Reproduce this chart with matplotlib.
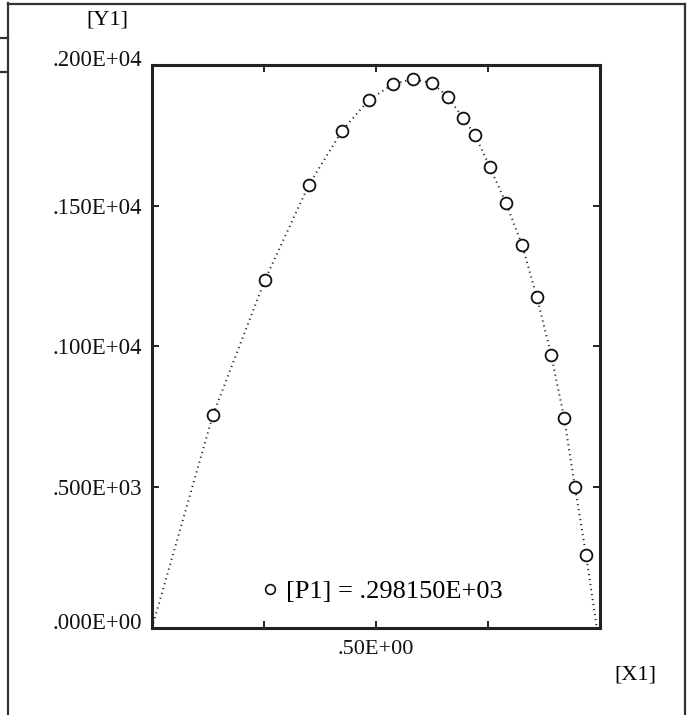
import matplotlib.pyplot as plt
from matplotlib.lines import Line2D
from matplotlib.transforms import ScaledTranslation

# values
x_pts = [0.136, 0.252, 0.350, 0.424, 0.484, 0.538, 0.583, 0.625, 0.661, 0.694,
         0.721, 0.754, 0.790, 0.826, 0.859, 0.891, 0.920, 0.944, 0.969]
y_pts = [757, 1236, 1574, 1766, 1876, 1932, 1950, 1936, 1886, 1812,
         1751, 1638, 1510, 1361, 1176, 970, 746, 501, 259]

# dotted fit curve: ends at zero on both sides
x_fit = [0.0] + x_pts + [0.993]
y_fit = [0.0] + y_pts + [0.0]

y_ticks = [0, 500, 1000, 1500, 2000]
y_labels = ['.000E+00', '.500E+03', '.100E+04', '.150E+04', '.200E+04']
x_ticks = [0.25, 0.5, 0.75]
x_labels = ['', '.50E+00', '']
legend_label = '[P1] = .298150E+03'

plt.rcParams['font.family'] = ['Liberation Serif', 'DejaVu Serif']
plt.rcParams['font.size'] = 15.5

fig = plt.figure(figsize=(6.89, 7.15), dpi=100)
W, H = 689.0, 715.0

ax = fig.add_axes([152 / W, 1 - 628 / H, 448 / W, 563 / H])
ax.plot(x_fit, y_fit, linestyle=(0, (0.6, 2.0)), color='#222222', linewidth=1.4)
ax.plot(x_pts, y_pts, linestyle='none', marker='o', markersize=8.5,
        markerfacecolor='white', markeredgecolor='#111111', markeredgewidth=1.3)

ax.set_xlim(0, 1)
ax.set_ylim(0, 2000)
ax.set_xticks(x_ticks)
ax.set_xticklabels(x_labels)
ax.set_yticks(y_ticks)
ax.set_yticklabels(y_labels)
ax.tick_params(direction='in', length=5, width=1.3, top=True, right=True,
               colors='#111111')
ax.tick_params(axis='y', pad=7, labelsize=16.5)
ax.tick_params(axis='x', pad=9, labelsize=16)
for s in ax.spines.values():
    s.set_linewidth(2.2)
    s.set_color('#222222')

# end labels sit a little off their ticks, as in the original
labs = ax.get_yticklabels()
labs[0].set_transform(labs[0].get_transform() + ScaledTranslation(0, 5 / 72, fig.dpi_scale_trans))
labs[-1].set_transform(labs[-1].get_transform() + ScaledTranslation(0, 5 / 72, fig.dpi_scale_trans))

handle = Line2D([], [], linestyle='none', marker='o', markersize=7,
                markerfacecolor='white', markeredgecolor='#111111', markeredgewidth=1.2)
ax.legend([handle], [legend_label], frameon=False, loc='center',
          bbox_to_anchor=(383 / W, 1 - 591 / H), bbox_transform=fig.transFigure,
          handlelength=0.5, handletextpad=0.35, fontsize=19)

fig.text(107 / W, 1 - 20 / H, '[Y1]', ha='center', va='center', fontsize=16)
fig.text(635 / W, 1 - 675 / H, '[X1]', ha='center', va='center', fontsize=16)

# page frame lines from the scan
lc = '#333333'
fig.add_artist(Line2D([8 / W, 8 / W], [0, 1 - 3 / H], color=lc, lw=1.6))
fig.add_artist(Line2D([8 / W, 685 / W], [1 - 4 / H, 1 - 4 / H], color=lc, lw=1.6))
fig.add_artist(Line2D([685 / W, 685 / W], [0, 1 - 4 / H], color=lc, lw=1.6))
fig.add_artist(Line2D([0, 8 / W], [1 - 38 / H, 1 - 38 / H], color=lc, lw=1.6))
fig.add_artist(Line2D([0, 8 / W], [1 - 72 / H, 1 - 72 / H], color=lc, lw=1.6))

fig.savefig('out.png', dpi=100)
